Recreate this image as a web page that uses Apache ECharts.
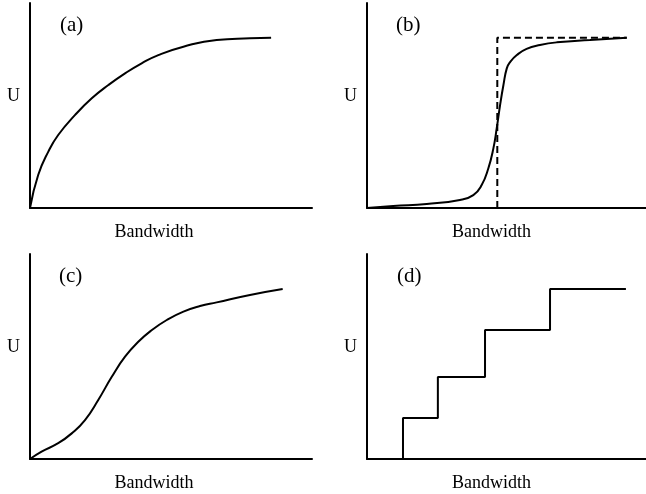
<!DOCTYPE html>
<html>
<head>
<meta charset="utf-8">
<script src="https://cdn.jsdelivr.net/npm/echarts@6/dist/echarts.min.js"></script>
<style>
html,body{margin:0;padding:0;background:#fff;}
#chart{width:646px;height:494px;}
</style>
</head>
<body>
<div id="chart"></div>
<script>
// Panel labels
const panelLabels = ['(a)', '(b)', '(c)', '(d)'];
const yAxisLabel = 'U';
const xAxisLabel = 'Bandwidth';

// (a) concave utility
const aX = [0, 2.9, 6.5, 10.0, 16.0, 21.9, 27.8, 33.7, 39.6, 45.5, 54.4, 66.2, 78.0, 85.5];
const aY = [0, 16.1, 27.5, 35.6, 45.4, 53.5, 60.0, 65.7, 70.6, 74.6, 78.7, 82.0, 82.8, 83.1];

// (b) sigmoid-like utility with step reference
const bX = [0, 9.4, 21.4, 33.3, 38.1, 41.1, 43.5, 45.3, 46.5, 47.7, 48.9, 50.1, 51.3, 53.7, 57.2, 62.0, 68.0, 79.9, 93.1];
const bY = [0, 1.0, 2.0, 3.9, 6.3, 11.2, 19.4, 29.1, 38.9, 50.2, 60.0, 68.1, 71.2, 74.6, 77.6, 79.5, 80.8, 82.0, 83.1];
const bStepX = [46.7, 46.7, 93.1];
const bStepY = [0, 83.1, 83.1];

// (c) S-shaped utility
const cX = [0, 4.1, 10.0, 14.8, 19.5, 24.2, 29.0, 33.7, 38.4, 43.2, 48.5, 54.4, 60.3, 66.2, 78.0, 89.6];
const cY = [0, 3.6, 7.7, 12.5, 19.0, 28.8, 40.1, 49.9, 57.2, 62.9, 67.8, 71.9, 74.6, 76.4, 80.0, 82.9];

// (d) staircase utility
const dX = [12.9, 25.4, 42.3, 65.6, 92.8];
const dY = [0, 20.0, 40.0, 62.9, 82.9];

const zip = (xs, ys) => xs.map((x, i) => [x, ys[i]]);

const grids = [
  {left: 30, top: 3, width: 282, height: 205},
  {left: 367, top: 3, width: 279, height: 205},
  {left: 30, top: 254, width: 282, height: 205},
  {left: 367, top: 254, width: 279, height: 205}
];
const titlePos = [
  {left: 60, top: 15},
  {left: 396, top: 15},
  {left: 59, top: 266},
  {left: 397, top: 266}
];
const xNamePad = [[0, 34, 0, 0], [0, 30, 0, 0], [0, 34, 0, 0], [0, 30, 0, 0]];

const axisLine = {show: true, onZero: false, lineStyle: {color: '#000', width: 2}};
const fontFam = '"Liberation Serif", "DejaVu Serif", serif';

const xAxes = grids.map((g, i) => ({
  type: 'value', gridIndex: i, min: 0, max: 100,
  axisLine: axisLine, axisTick: {show: false}, axisLabel: {show: false}, splitLine: {show: false},
  name: xAxisLabel, nameLocation: 'middle', nameGap: 15,
  nameTextStyle: {color: '#000', fontFamily: fontFam, fontSize: 18, padding: xNamePad[i]}
}));
const yAxes = grids.map((g, i) => ({
  type: 'value', gridIndex: i, min: 0, max: 100,
  axisLine: axisLine, axisTick: {show: false}, axisLabel: {show: false}, splitLine: {show: false},
  name: yAxisLabel, nameLocation: 'middle', nameGap: 10, nameRotate: 0,
  nameTextStyle: {color: '#000', fontFamily: fontFam, fontSize: 18, verticalAlign: 'bottom'}
}));

const lineStyle = {color: '#000', width: 2};
const base = {type: 'line', showSymbol: false, symbol: 'none', lineStyle: lineStyle, silent: true, animation: false};

const option = {
  backgroundColor: '#fff',
  animation: false,
  title: panelLabels.map((t, i) => ({
    text: t, left: titlePos[i].left, top: titlePos[i].top, padding: 0,
    textStyle: {color: '#000', fontFamily: fontFam, fontSize: 21, fontWeight: 'normal'}
  })),
  grid: grids,
  xAxis: xAxes,
  yAxis: yAxes,
  series: [
    Object.assign({}, base, {xAxisIndex: 0, yAxisIndex: 0, smooth: 0.5, data: zip(aX, aY)}),
    Object.assign({}, base, {xAxisIndex: 1, yAxisIndex: 1, smooth: 0.5, data: zip(bX, bY)}),
    Object.assign({}, base, {xAxisIndex: 1, yAxisIndex: 1, lineStyle: {color: '#000', width: 2, type: [7, 4]}, data: zip(bStepX, bStepY)}),
    Object.assign({}, base, {xAxisIndex: 2, yAxisIndex: 2, smooth: 0.5, data: zip(cX, cY)}),
    Object.assign({}, base, {xAxisIndex: 3, yAxisIndex: 3, step: 'start', data: zip(dX, dY)})
  ]
};

const chart = echarts.init(document.getElementById('chart'));
chart.setOption(option);
</script>
</body>
</html>
